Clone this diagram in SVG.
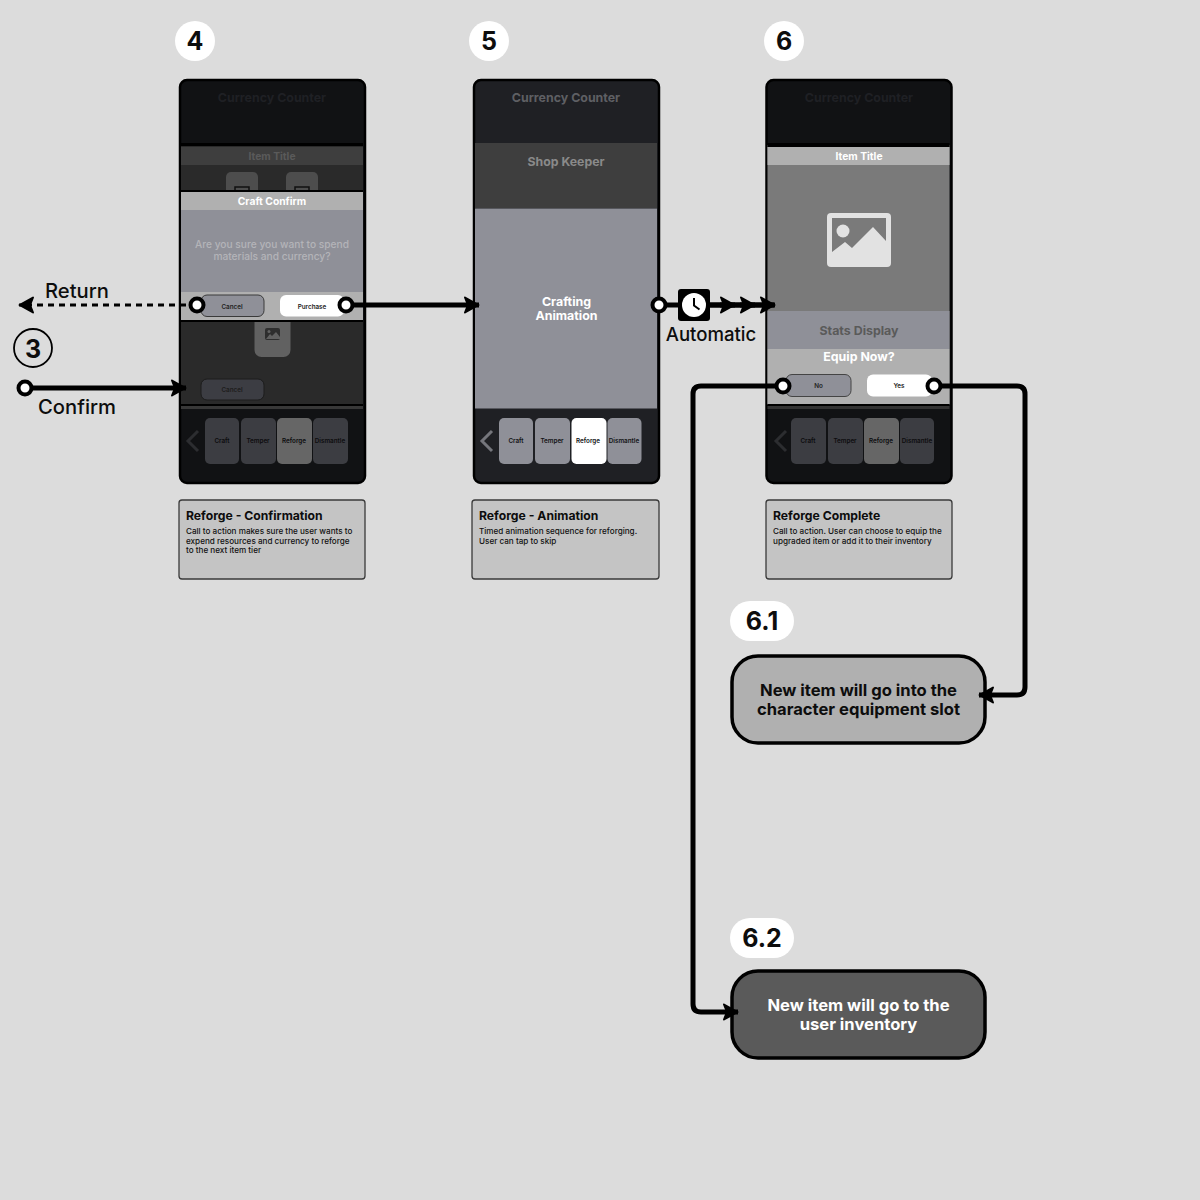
<svg xmlns="http://www.w3.org/2000/svg" width="1200" height="1200" viewBox="0 0 1200 1200">
<style>
text{font-family:Inter,"Liberation Sans",sans-serif;text-anchor:middle}
.b{font-weight:700}.sb{font-weight:600}.m{font-weight:500}
.tab{font-size:6.3px;font-weight:600;fill:#111214}
.dtab{font-size:6.3px;font-weight:600;fill:#0c0c0e}
.note{fill:#c4c4c4;stroke:#3a3a3a;stroke-width:1.3}
.nt{font-size:12.2px;font-weight:700;fill:#0d0d0d;text-anchor:start}
.nb{font-size:8.15px;font-weight:500;fill:#111;text-anchor:start}
.badge{fill:#fff}
.bn{font-size:25px;font-weight:700;fill:#0d0d0d}
.lab{font-size:20.2px;font-weight:500;fill:#0d0d0d}
.wire{fill:none;stroke:#000;stroke-width:5}
.port{fill:#fff;stroke:#000;stroke-width:4}
</style>
<defs>
<marker id="arr" markerUnits="userSpaceOnUse" markerWidth="18" markerHeight="20" refX="16" refY="10" orient="auto"><path d="M2 2.500L15.500 10L2 17.500L5 10Z" fill="#000" stroke="#000" stroke-width="2" stroke-linejoin="round"/></marker>
<clipPath id="c4"><rect x="181" y="81" width="182" height="401" rx="7"/></clipPath>
<clipPath id="c5"><rect x="475" y="81" width="182" height="401" rx="7"/></clipPath>
<clipPath id="c6"><rect x="767.500" y="81" width="182" height="401" rx="7"/></clipPath>
</defs>
<rect width="1200" height="1200" fill="#dcdcdc"/>

<g id="screen-4">
<rect x="180" y="80" width="185" height="403" rx="7" fill="#111214" stroke="#000" stroke-width="2.500"/>
<g clip-path="url(#c4)">
<rect x="181" y="145" width="182" height="260" fill="#2a2a2a"/>
<rect x="181" y="147" width="182" height="18" fill="#3e3e3e"/>
<rect x="181" y="143" width="182" height="3" fill="#000"/>
<rect x="226" y="172" width="32" height="30" rx="5" fill="#4d4d4d"/>
<rect x="286" y="172" width="32" height="30" rx="5" fill="#4d4d4d"/>
<rect x="235" y="187" width="14" height="10" fill="none" stroke="#111" stroke-width="1.500"/>
<rect x="295" y="187" width="14" height="10" fill="none" stroke="#111" stroke-width="1.500"/>
<rect x="254.500" y="310" width="36" height="47" rx="7" fill="#616161"/>
<rect x="265" y="328" width="15" height="12" rx="2" fill="#2e2e2e"/>
<path d="M266 339l4-5 2 2 4-4 4 5v2z" fill="#616161"/><circle cx="269" cy="331.500" r="1.500" fill="#616161"/>
<rect x="201" y="379" width="63" height="21" rx="6" fill="#3c3d43" stroke="#1c1c1c"/>
<rect x="181" y="404" width="182" height="2" fill="#000"/>
<rect x="181" y="406" width="182" height="3" fill="#383838"/>
<rect x="181" y="190" width="182" height="132" fill="#000"/>
<rect x="181" y="192" width="182" height="18" fill="#b0b0b0"/>
<rect x="181" y="210" width="182" height="82" fill="#8f9098"/>
<rect x="181" y="292" width="182" height="28" fill="#b0b0b0"/>
<rect x="201" y="295" width="63" height="21.500" rx="6" fill="#8f9098" stroke="#3a3a3a"/>
<rect x="280" y="295" width="64" height="21.500" rx="6" fill="#fff"/>
<rect x="205" y="418" width="34" height="46" rx="5" fill="#3c3d42"/>
<rect x="241" y="418" width="35" height="46" rx="5" fill="#3c3d42"/>
<rect x="277" y="418" width="35" height="46" rx="5" fill="#666"/>
<rect x="313" y="418" width="35" height="46" rx="5" fill="#3c3d42"/>
<path d="M198 431L188 441L198 451" fill="none" stroke="#2c2d30" stroke-width="3"/>
</g>
<text x="272" y="102" font-size="12.400" class="b" fill="#1f2024">Currency Counter</text>
<text x="272" y="160" font-size="10.300" class="b" fill="#5a5a5a">Item Title</text>
<text x="272" y="205" font-size="10.300" class="b" fill="#fff">Craft Confirm</text>
<text x="272" y="248" font-size="10.200" class="m" fill="#b4b4b8">Are you sure you want to spend</text>
<text x="272" y="260" font-size="10.200" class="m" fill="#b4b4b8">materials and currency?</text>
<text x="232" y="308.500" font-size="6.300" class="sb" fill="#222">Cancel</text>
<text x="312" y="308.500" font-size="6.300" class="sb" fill="#222">Purchase</text>
<text x="232" y="391.500" font-size="6.300" class="sb" fill="#1c1c1c">Cancel</text>
<text x="222" y="443" class="dtab">Craft</text>
<text x="258" y="443" class="dtab">Temper</text>
<text x="294" y="443" class="dtab">Reforge</text>
<text x="330" y="443" class="dtab">Dismantle</text>
</g>

<g id="screen-5">
<rect x="474" y="80" width="185" height="403" rx="7" fill="#1f2024" stroke="#000" stroke-width="2.500"/>
<g clip-path="url(#c5)">
<rect x="475" y="143" width="182" height="65" fill="#3e3e3e"/>
<rect x="475" y="208.500" width="182" height="200" fill="#8f9098"/>
<rect x="499" y="418" width="34" height="46" rx="5" fill="#8f9098"/>
<rect x="535" y="418" width="35" height="46" rx="5" fill="#8f9098"/>
<rect x="571.500" y="418" width="35" height="46" rx="5" fill="#fff"/>
<rect x="607.500" y="418" width="34" height="46" rx="5" fill="#8f9098"/>
<path d="M492 431L482 441L492 451" fill="none" stroke="#75767c" stroke-width="3"/>
</g>
<text x="566" y="102" font-size="12.400" class="b" fill="#5e5f63">Currency Counter</text>
<text x="566" y="166" font-size="12.300" class="b" fill="#8a8a8a">Shop Keeper</text>
<text x="566.500" y="306" font-size="12.400" class="b" fill="#fff">Crafting</text>
<text x="566.500" y="320" font-size="12.400" class="b" fill="#fff">Animation</text>
<text x="516" y="443" class="tab">Craft</text>
<text x="552" y="443" class="tab">Temper</text>
<text x="588" y="443" class="tab">Reforge</text>
<text x="624" y="443" class="tab">Dismantle</text>
</g>

<g id="screen-6">
<rect x="766.500" y="80" width="185" height="403" rx="7" fill="#111214" stroke="#000" stroke-width="2.500"/>
<g clip-path="url(#c6)">
<rect x="767" y="145" width="183" height="260" fill="#7a7a7a"/>
<rect x="767" y="143" width="183" height="4" fill="#000"/>
<rect x="767" y="147" width="183" height="18" fill="#b0b0b0"/>
<rect x="767" y="311" width="183" height="38" fill="#8f9098"/>
<rect x="767" y="349" width="183" height="55" fill="#b0b0b0"/>
<rect x="767" y="404" width="183" height="2" fill="#000"/>
<rect x="767" y="406" width="183" height="3" fill="#333"/>
<rect x="786" y="374.500" width="65" height="22" rx="6" fill="#8f9098" stroke="#444"/>
<rect x="867" y="374.500" width="65" height="22" rx="6" fill="#fff"/>
<rect x="791" y="418" width="35" height="46" rx="5" fill="#3c3d42"/>
<rect x="828" y="418" width="35" height="46" rx="5" fill="#3c3d42"/>
<rect x="864" y="418" width="35" height="46" rx="5" fill="#666"/>
<rect x="900" y="418" width="34" height="46" rx="5" fill="#3c3d42"/>
<path d="M786 431L776 441L786 451" fill="none" stroke="#2c2d30" stroke-width="3"/>
</g>
<rect x="827" y="213" width="64" height="54" rx="4" fill="#e2e2e2"/>
<path d="M832 218H886V241L873 227L852 248L845 242L832 252Z" fill="#7a7a7a"/>
<circle cx="843" cy="231" r="6.500" fill="#e2e2e2"/>
<text x="859" y="102" font-size="12.400" class="b" fill="#1f2024">Currency Counter</text>
<text x="859" y="160" font-size="10.300" class="b" fill="#fff">Item Title</text>
<text x="859" y="335" font-size="12.400" class="b" fill="#5a5a5a">Stats Display</text>
<text x="859" y="361" font-size="12.400" class="b" fill="#fff">Equip Now?</text>
<text x="818.500" y="388" font-size="6.300" class="sb" fill="#222">No</text>
<text x="899" y="388" font-size="6.300" class="sb" fill="#222">Yes</text>
<text x="808" y="443" class="dtab">Craft</text>
<text x="845" y="443" class="dtab">Temper</text>
<text x="881" y="443" class="dtab">Reforge</text>
<text x="917" y="443" class="dtab">Dismantle</text>
</g>

<g id="note-4">
<rect x="179" y="500" width="186" height="79" rx="3" class="note"/>
<text x="186" y="520" class="nt">Reforge - Confirmation</text>
<text x="186" y="534" class="nb">Call to action makes sure the user wants to</text>
<text x="186" y="544" class="nb">expend resources and currency to reforge</text>
<text x="186" y="553" class="nb">to the next item tier</text>
</g>
<g id="note-5">
<rect x="472" y="500" width="187" height="79" rx="3" class="note"/>
<text x="479" y="520" class="nt">Reforge - Animation</text>
<text x="479" y="534" class="nb">Timed animation sequence for reforging.</text>
<text x="479" y="544" class="nb">User can tap to skip</text>
</g>
<g id="note-6">
<rect x="766" y="500" width="186" height="79" rx="3" class="note"/>
<text x="773" y="520" class="nt">Reforge Complete</text>
<text x="773" y="534" class="nb">Call to action. User can choose to equip the</text>
<text x="773" y="544" class="nb">upgraded item or add it to their inventory</text>
</g>

<g id="badge-4"><circle cx="195" cy="41" r="20" class="badge"/><text x="195" y="50" class="bn">4</text></g>
<g id="badge-5"><circle cx="489" cy="41" r="20" class="badge"/><text x="489" y="50" class="bn">5</text></g>
<g id="badge-6"><circle cx="784" cy="41" r="20" class="badge"/><text x="784" y="50" class="bn">6</text></g>
<g id="badge-3"><circle cx="33" cy="348" r="19" fill="none" stroke="#000" stroke-width="1.800"/><text x="33" y="358" class="bn">3</text></g>
<g id="badge-61"><rect x="730" y="601" width="64" height="40" rx="20" class="badge"/><text x="762" y="630" class="bn">6.1</text></g>
<g id="badge-62"><rect x="730" y="918" width="64" height="40" rx="20" class="badge"/><text x="762" y="947" class="bn">6.2</text></g>

<g id="node-61">
<rect x="732" y="656" width="253" height="87" rx="26" fill="#b0b0b0" stroke="#000" stroke-width="3.500"/>
<text x="858.500" y="696" font-size="16.600" class="b" fill="#0d0d0d">New item will go into the</text>
<text x="858.500" y="715" font-size="16.600" class="b" fill="#0d0d0d">character equipment slot</text>
</g>
<g id="node-62">
<rect x="732" y="971" width="253" height="87" rx="26" fill="#5a5a5a" stroke="#000" stroke-width="3.500"/>
<text x="858.500" y="1011" font-size="16.600" class="b" fill="#fff">New item will go to the</text>
<text x="858.500" y="1030" font-size="16.600" class="b" fill="#fff">user inventory</text>
</g>

<g id="connectors">
<path d="M197 305H19" fill="none" stroke="#000" stroke-width="2.800" stroke-dasharray="6 5" marker-end="url(#arr)"/>
<path d="M25 388H186" class="wire" marker-end="url(#arr)"/>
<path d="M346 305H479" class="wire" marker-end="url(#arr)"/>
<path d="M659 305H774" class="wire"/>
<path d="M700 305H735" class="wire" marker-end="url(#arr)"/>
<path d="M720 305H755" class="wire" marker-end="url(#arr)"/>
<path d="M740 305H775" class="wire" marker-end="url(#arr)"/>
<path d="M934 386H1017Q1025 386 1025 394V687Q1025 695 1017 695H979" class="wire" marker-end="url(#arr)"/>
<path d="M783 386H701Q693 386 693 394V1004Q693 1012 701 1012H738" class="wire" marker-end="url(#arr)"/>
<circle cx="197" cy="305" r="6.500" class="port"/>
<circle cx="346" cy="305" r="6.500" class="port"/>
<circle cx="25" cy="388" r="6.500" class="port"/>
<circle cx="659" cy="305" r="6.500" class="port"/>
<circle cx="783" cy="386" r="6.500" class="port"/>
<circle cx="934" cy="386" r="6.500" class="port"/>
<rect x="678" y="289" width="32" height="32" rx="3" fill="#000"/>
<circle cx="694" cy="305" r="12" fill="#fff"/>
<path d="M694 298V305.500L699.500 309.500" fill="none" stroke="#000" stroke-width="2"/>
</g>
<g id="labels">
<text x="77" y="298" class="lab">Return</text>
<text x="77" y="414" class="lab">Confirm</text>
<text x="711" y="341" class="lab" style="font-size:18.600px">Automatic</text>
</g>
</svg>
